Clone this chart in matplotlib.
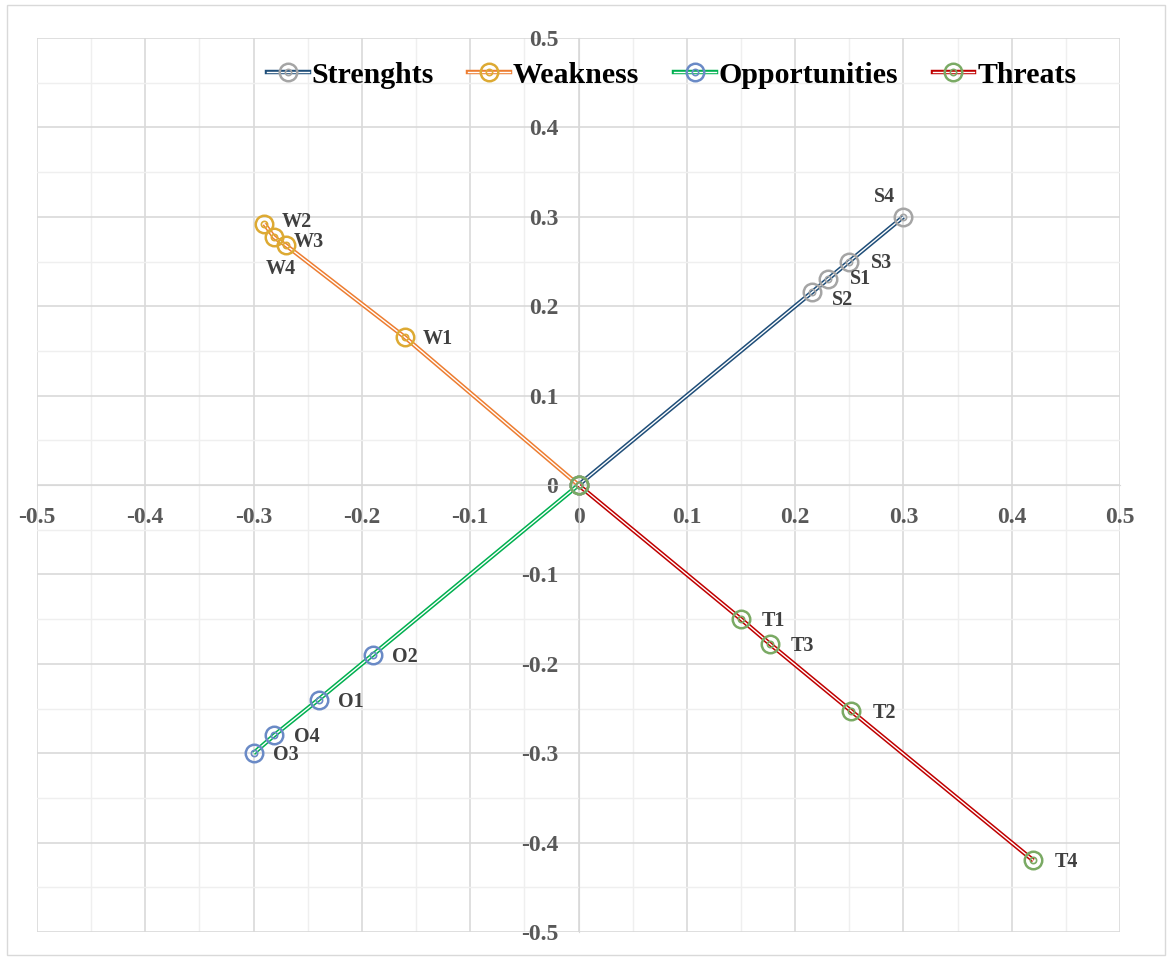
import matplotlib.pyplot as plt
from matplotlib.lines import Line2D
from matplotlib.patches import Rectangle
from matplotlib.ticker import MultipleLocator

# Pontos de cada grupo da matriz SWOT
s_nomes = ['S1', 'S2', 'S3', 'S4']
s_x = [0.23, 0.216, 0.25, 0.30]
s_y = [0.23, 0.216, 0.25, 0.30]

w_nomes = ['W1', 'W2', 'W3', 'W4']
w_x = [-0.16, -0.29, -0.281, -0.27]
w_y = [0.165, 0.292, 0.277, 0.268]

o_nomes = ['O1', 'O2', 'O3', 'O4']
o_x = [-0.24, -0.19, -0.30, -0.281]
o_y = [-0.24, -0.19, -0.30, -0.28]

t_nomes = ['T1', 'T2', 'T3', 'T4']
t_x = [0.15, 0.252, 0.177, 0.42]
t_y = [-0.15, -0.253, -0.178, -0.42]

series = ['Strenghts', 'Weakness', 'Opportunities', 'Threats']
cor_linha = ['#1F4E79', '#ED7D31', '#00B050', '#C00000']
cor_marca = ['#A5A5A5', '#DDAA33', '#6A8AC6', '#7AAA64']

# posicao dos rotulos (deslocamento em pontos)
padrao = (23.5, -1.4)
desloc = {n: padrao for n in s_nomes + w_nomes + o_nomes + t_nomes}
desloc['S4'] = (-13.7, 14.4)
desloc['S1'] = (23.5, 0.5)
desloc['S2'] = (21.5, -5.5)
desloc['W2'] = (23.5, 1.5)
desloc['W3'] = (25, -3.5)
desloc['W4'] = (-3.6, -17.3)

plt.rcParams['font.family'] = ['Liberation Serif', 'DejaVu Serif']
plt.rcParams['font.weight'] = 'bold'

fig = plt.figure(figsize=(11.7, 9.59), dpi=100)
ax = fig.add_axes([37 / 1170, 1 - 932 / 959, (1120 - 37) / 1170, (932 - 38) / 959])

fig.patches.append(Rectangle((7 / 1170, 4 / 959), 1158 / 1170, 950 / 959,
                             transform=fig.transFigure, fill=False,
                             edgecolor='#D9D9D9', linewidth=1))

dados = [(s_nomes, s_x, s_y), (w_nomes, w_x, w_y),
         (o_nomes, o_x, o_y), (t_nomes, t_x, t_y)]

def marcas(cor):
    externo = dict(ls='none', marker='o', ms=12.6, mfc='none', mec=cor, mew=1.8)
    interno = dict(ls='none', marker='o', ms=4.5, mfc='none', mec=cor, mew=1.2)
    return externo, interno

handles = []
for i, (nomes, xs, ys) in enumerate(dados):
    # linhas da origem ate cada ponto, ordenadas pela distancia
    ordem = sorted(range(len(xs)), key=lambda k: xs[k] ** 2 + ys[k] ** 2)
    px = [0] + [xs[k] for k in ordem]
    py = [0] + [ys[k] for k in ordem]
    ext, inn = marcas(cor_marca[i])
    ax.plot(px, py, color=cor_linha[i], lw=3.2, solid_capstyle='butt', zorder=3)
    ax.plot(px, py, color='white', lw=1.0, solid_capstyle='butt', zorder=3.1)
    ax.plot(px, py, zorder=4, **ext)
    ax.plot(px, py, zorder=4, **inn)
    for n, x, y in zip(nomes, xs, ys):
        ax.annotate(n, (x, y), xytext=desloc[n], textcoords='offset points',
                    ha='center', va='center', fontsize=14.5, color='#404040',
                    fontweight='bold', zorder=5)
    h = (Line2D([], [], color=cor_linha[i], lw=3.2),
         Line2D([], [], color='white', lw=1.0),
         Line2D([], [], **ext),
         Line2D([], [], **inn))
    handles.append(h)

ax.set_xlim(-0.5, 0.5)
ax.set_ylim(-0.5, 0.5)
ax.xaxis.set_minor_locator(MultipleLocator(0.05))
ax.yaxis.set_minor_locator(MultipleLocator(0.05))
ax.grid(which='major', color='#D9D9D9', lw=1.2, zorder=0)
ax.grid(which='minor', color='#EFEFEF', lw=1.0, zorder=0)
ax.set_axisbelow(True)

for lado in ['top', 'right']:
    ax.spines[lado].set_visible(False)
ax.spines['left'].set_position('zero')
ax.spines['bottom'].set_position('zero')
ax.spines['left'].set_color('#D9D9D9')
ax.spines['bottom'].set_color('#D9D9D9')

fmt = lambda v: '0' if abs(v) < 1e-9 else ('%g' % round(v, 1))
vals = [round(-0.5 + 0.1 * k, 1) for k in range(11)]
ax.set_xticks(vals)
ax.set_yticks(vals)
ax.set_xticklabels([fmt(v) for v in vals])
ax.set_yticklabels([fmt(v) for v in vals])
ax.tick_params(which='both', length=0)
ax.tick_params(axis='x', pad=15.5, labelsize=17, labelcolor='#595959')
ax.tick_params(axis='y', pad=14.5, labelsize=17, labelcolor='#595959')
for t in ax.get_xticklabels() + ax.get_yticklabels():
    t.set_fontweight('bold')

leg = ax.legend(handles, series, ncol=4, loc='center', bbox_to_anchor=(0.586, 0.9586),
                frameon=False, handlelength=1.4, handletextpad=0.1,
                columnspacing=1.15, prop={'weight': 'bold', 'size': 21.5})
for t in leg.get_texts():
    t.set_color('black')

fig.savefig('out.png', dpi=100)
